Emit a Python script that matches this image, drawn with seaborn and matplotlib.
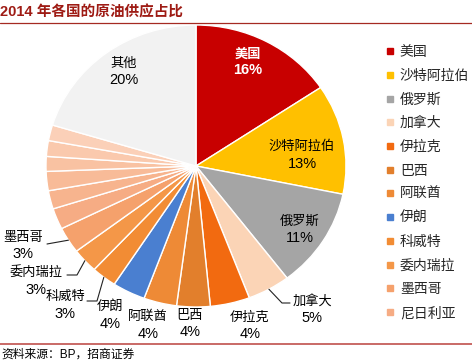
import numpy as np
import matplotlib.pyplot as plt
import seaborn as sns
from matplotlib.lines import Line2D

# shares (%); labels show the rounded values
countries = ["美国", "沙特阿拉伯", "俄罗斯", "加拿大", "伊拉克", "巴西", "阿联酋",
             "伊朗", "科威特", "委内瑞拉", "墨西哥", "尼日利亚"]
country_share = [15.6, 12.6, 11.4, 4.6, 4.25, 3.6, 3.55, 3.55, 2.7, 2.8, 3.0, 2.4]
minor_share = [2.1, 2.2, 1.7, 1.8, 1.8]   # small producers, not named in the chart
other_name = "其他"
other_share = 20.3

country_colors = ["#C80000", "#FFC000", "#A5A5A5", "#FBD4B6", "#F26A10", "#E27F2C",
                  "#EE8A36", "#4A7FD0", "#F28C34", "#F49748", "#F5A16C", "#F6AC84"]
minor_colors = ["#F7B48E", "#F8BB98", "#F9C2A2", "#FAC9AD", "#FBD0B8"]
other_color = "#F2F2F2"

# label block centres in pixels (x, y from top)
label_pos = {"美国": (248, 62), "沙特阿拉伯": (302, 155), "俄罗斯": (300, 230),
             "其他": (124, 72), "加拿大": (312, 310), "伊拉克": (250, 326),
             "巴西": (190, 324), "阿联酋": (148, 325), "伊朗": (110, 315),
             "科威特": (65, 305), "委内瑞拉": (36, 281), "墨西哥": (23, 246)}
leaders = {"加拿大": [(282, 303), (290, 303)],
           "墨西哥": [(47, 244)],
           "委内瑞拉": [(77, 275), (67, 275)],
           "科威特": [(97, 301), (87, 301)]}

sns.set_theme(style="white")
plt.rcParams["font.family"] = ["Liberation Sans", "Noto Sans CJK SC"]

W, H = 472, 364
cx, cy, rx, ry = 196, 166, 150, 141
fig = plt.figure(figsize=(W / 100, H / 100), dpi=100)
fig.patch.set_facecolor("white")

ax = fig.add_axes([(cx - rx) / W, 1 - (cy + ry) / H, 2 * rx / W, 2 * ry / H])
shares = country_share + minor_share + [other_share]
colors = country_colors + minor_colors + [other_color]
wedges, _ = ax.pie(shares, colors=colors, startangle=90, counterclock=False,
                   wedgeprops=dict(edgecolor="white", linewidth=1, clip_on=False))
ax.set_xlim(-1, 1)
ax.set_ylim(-1, 1)
ax.set_aspect("auto")

ov = fig.add_axes([0, 0, 1, 1])
ov.set_xlim(0, W)
ov.set_ylim(H, 0)
ov.axis("off")

names = countries + [None] * len(minor_share) + [other_name]
for w, name, v in zip(wedges, names, shares):
    if name not in label_pos:
        continue
    x, y = label_pos[name]
    col = "white" if name == "美国" else "black"
    wt = "bold" if name == "美国" else "normal"
    ov.text(x, y - 8.5, name, ha="center", va="center", fontsize=9.5, color=col,
            weight=wt, family=["Noto Sans CJK SC"])
    ov.text(x, y + 8.5, f"{v:.0f}%", ha="center", va="center", fontsize=10.5,
            color=col, weight=wt)
    if name in leaders:
        mid = np.deg2rad((w.theta1 + w.theta2) / 2)
        pts = [(cx + rx * np.cos(mid), cy - ry * np.sin(mid))] + leaders[name]
        ov.plot([p[0] for p in pts], [p[1] for p in pts], color="#222222", lw=0.8)

# title, rules, source
ov.text(0, 12, "2014 年各国的原油供应占比", ha="left", va="center", fontsize=10.5,
        weight="bold", color="#9E1B14")
ov.plot([0, W], [23, 23], color="#A52A22", lw=0.9)
ov.plot([0, W], [344, 344], color="#C0504D", lw=1.2)
ov.text(1, 355, "资料来源：BP，招商证券", ha="left", va="center", fontsize=8.5,
        color="black")

handles = [Line2D([0], [0], marker="s", ls="", color=c, markersize=4.5)
           for c in country_colors]
ov.legend(handles, countries, loc="upper left", bbox_to_anchor=(386, 45),
          bbox_transform=ov.transData, frameon=False, handlelength=0.6,
          handletextpad=0.4, labelspacing=0.7, borderpad=0, borderaxespad=0,
          prop={"family": ["Noto Sans CJK SC"], "size": 10})

fig.savefig("out.png", dpi=100)
